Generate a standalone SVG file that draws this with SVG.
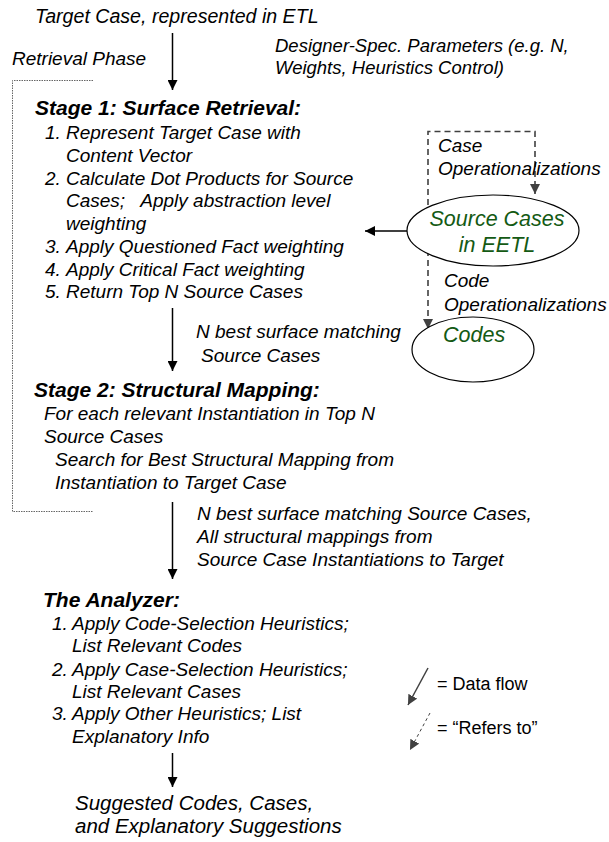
<svg xmlns="http://www.w3.org/2000/svg" width="609" height="842" viewBox="0 0 609 842">
<style>
text{font-family:"Liberation Sans",Arial,sans-serif;fill:#000}
.t{font-size:19px;font-style:italic}
.h{font-size:21px;font-style:italic;font-weight:bold}
.g{font-size:21.5px;font-style:italic;fill:#145a14}
.l{font-size:18px}
.flow{stroke:#000;stroke-width:1.5;fill:none}
.ref{stroke:#404040;stroke-width:1.6;fill:none;stroke-dasharray:6,4}
.br{stroke:#666;stroke-width:1;fill:none;stroke-dasharray:1.5,1}
.node{fill:#fff;stroke:#000;stroke-width:1.2}
</style>
<defs>
<marker id="ah" markerWidth="10" markerHeight="10" refX="10" refY="5" orient="auto" markerUnits="userSpaceOnUse">
<path d="M0,0 L10,5 L0,10 Z" fill="#000"/>
</marker>
<marker id="ag" markerWidth="10" markerHeight="10" refX="10" refY="5" orient="auto" markerUnits="userSpaceOnUse">
<path d="M0,0 L10,5 L0,10 Z" fill="#404040"/>
</marker>
</defs>

<g id="bracket">
<path class="br" d="M93,80.5 H12.5 V511.5 H93"/>
<text class="t" x="12" y="65">Retrieval Phase</text>
</g>

<g id="connectors">
<line class="flow" x1="172.5" y1="33" x2="172.5" y2="90" marker-end="url(#ah)"/>
<line class="flow" x1="172.5" y1="308" x2="172.5" y2="371" marker-end="url(#ah)"/>
<line class="flow" x1="172.5" y1="502" x2="172.5" y2="579" marker-end="url(#ah)"/>
<line class="flow" x1="172.5" y1="753" x2="172.5" y2="787" marker-end="url(#ah)"/>
<line class="flow" x1="407" y1="231" x2="365" y2="231" marker-end="url(#ah)"/>
<path class="ref" d="M428,215 V131.5 H535 V194" marker-end="url(#ag)"/>
<line class="ref" x1="428" y1="250" x2="428" y2="329" marker-end="url(#ag)"/>
</g>

<g id="target">
<text class="t" x="35" y="23" style="font-size:19.6px">Target Case, represented in ETL</text>
</g>

<g id="params">
<text class="t" x="275" y="52" style="font-size:18.5px">Designer-Spec. Parameters (e.g. N,</text>
<text class="t" x="275" y="74" style="font-size:18.5px">Weights, Heuristics Control)</text>
</g>

<g id="stage1">
<text class="h" x="35" y="115">Stage 1: Surface Retrieval:</text>
<text class="t" x="45" y="139">1.</text><text class="t" x="66" y="139">Represent Target Case with</text>
<text class="t" x="66" y="162">Content Vector</text>
<text class="t" x="45" y="185">2.</text><text class="t" x="66" y="185">Calculate Dot Products for Source</text>
<text class="t" x="66" y="207" xml:space="preserve">Cases;   Apply abstraction level</text>
<text class="t" x="66" y="230">weighting</text>
<text class="t" x="45" y="253">3.</text><text class="t" x="66" y="253">Apply Questioned Fact weighting</text>
<text class="t" x="45" y="276">4.</text><text class="t" x="66" y="276">Apply Critical Fact weighting</text>
<text class="t" x="45" y="298">5.</text><text class="t" x="66" y="298">Return Top N Source Cases</text>
</g>

<g id="label1">
<text class="t" x="196" y="338">N best surface matching</text>
<text class="t" x="201" y="362">Source Cases</text>
</g>

<g id="caseop">
<text class="t" x="438" y="152">Case</text>
<text class="t" x="438" y="175">Operationalizations</text>
</g>

<g id="sourcecases">
<ellipse class="node" cx="493" cy="230.5" rx="86" ry="35.5"/>
<text class="g" x="497" y="226" text-anchor="middle">Source Cases</text>
<text class="g" x="497" y="252" text-anchor="middle">in EETL</text>
</g>

<g id="codeop">
<text class="t" x="444" y="287">Code</text>
<text class="t" x="444" y="311">Operationalizations</text>
</g>

<g id="codes">
<ellipse class="node" cx="473" cy="349.5" rx="61" ry="32.5"/>
<text class="g" x="443" y="342">Codes</text>
</g>

<g id="stage2">
<text class="h" x="34" y="397">Stage 2: Structural Mapping:</text>
<text class="t" x="44" y="420">For each relevant Instantiation in Top N</text>
<text class="t" x="44" y="443">Source Cases</text>
<text class="t" x="55" y="466">Search for Best Structural Mapping from</text>
<text class="t" x="55" y="489">Instantiation to Target Case</text>
</g>

<g id="label2">
<text class="t" x="197" y="520">N best surface matching Source Cases,</text>
<text class="t" x="197" y="543">All structural mappings from</text>
<text class="t" x="197" y="566">Source Case Instantiations to Target</text>
</g>

<g id="analyzer">
<text class="h" x="43" y="607">The Analyzer:</text>
<text class="t" x="52" y="630">1.</text><text class="t" x="72" y="630">Apply Code-Selection Heuristics;</text>
<text class="t" x="72" y="652">List Relevant Codes</text>
<text class="t" x="52" y="676">2.</text><text class="t" x="72" y="676">Apply Case-Selection Heuristics;</text>
<text class="t" x="72" y="698">List Relevant Cases</text>
<text class="t" x="52" y="720">3.</text><text class="t" x="72" y="720">Apply Other Heuristics; List</text>
<text class="t" x="72" y="743">Explanatory Info</text>
</g>

<g id="output">
<text class="t" x="75" y="810" style="font-size:20.5px">Suggested Codes, Cases,</text>
<text class="t" x="75" y="833" style="font-size:20.5px">and Explanatory Suggestions</text>
</g>

<g id="legend">
<line x1="428" y1="668" x2="408" y2="705" stroke="#404040" stroke-width="1.5" marker-end="url(#ag)"/>
<text class="l" x="437" y="690">= Data flow</text>
<line x1="430" y1="713" x2="410" y2="750" stroke="#404040" stroke-width="1" stroke-dasharray="3,3" marker-end="url(#ag)"/>
<text class="l" x="437" y="734">= “Refers to”</text>
</g>
</svg>
